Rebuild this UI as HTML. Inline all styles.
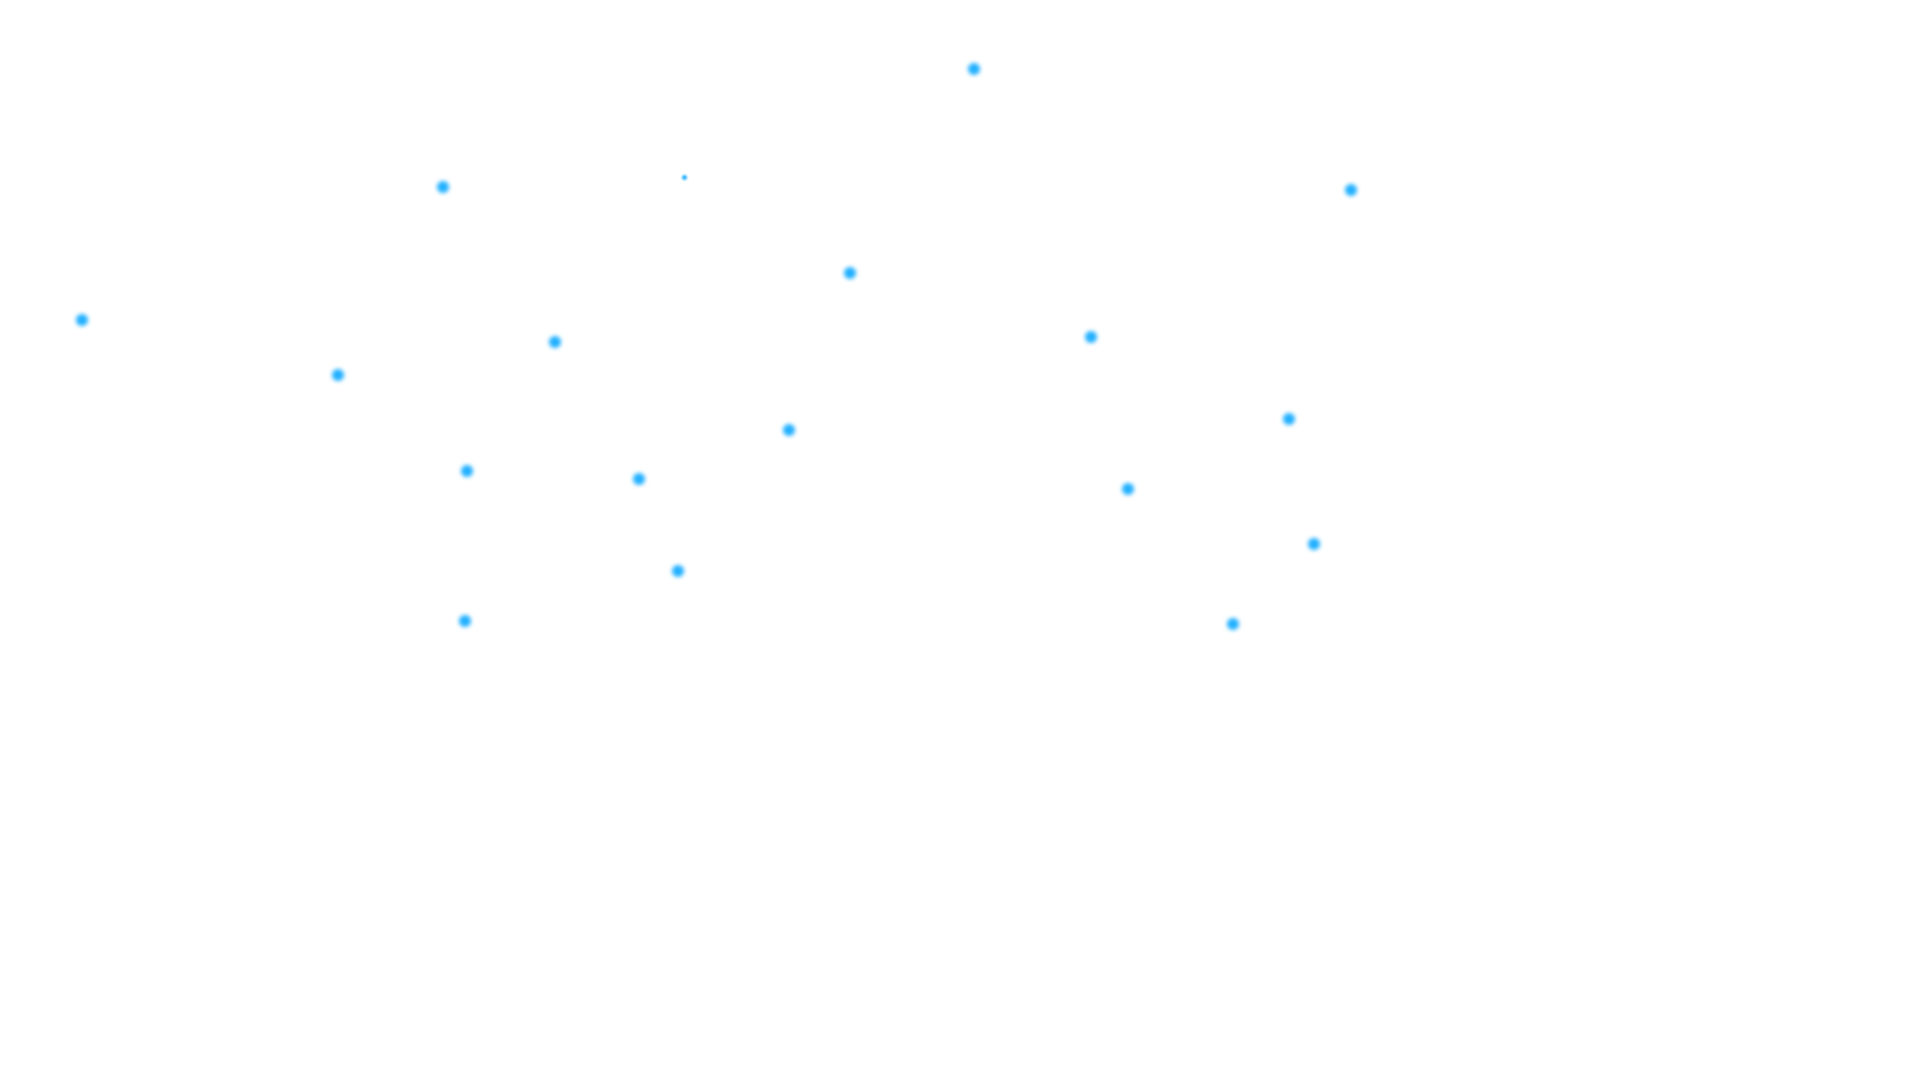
<!DOCTYPE html>
<html><head><meta charset="utf-8"><style>
html,body{margin:0;padding:0;background:#fff;width:1920px;height:1080px;overflow:hidden}
.d{position:absolute;width:12px;height:12px;margin:-6px 0 0 -6px;border-radius:50%;
background:#22b0ff;filter:blur(2px)}
.s{width:5px;height:5px;margin:-2.5px 0 0 -2.5px;filter:blur(1px)}
</style></head><body>
<div class="d" style="left:974px;top:69px"></div>
<div class="d" style="left:443px;top:187px"></div>
<div class="d s" style="left:684px;top:177px"></div>
<div class="d" style="left:1351px;top:190px"></div>
<div class="d" style="left:850px;top:273px"></div>
<div class="d" style="left:82px;top:320px"></div>
<div class="d" style="left:555px;top:342px"></div>
<div class="d" style="left:338px;top:375px"></div>
<div class="d" style="left:1091px;top:337px"></div>
<div class="d" style="left:789px;top:430px"></div>
<div class="d" style="left:1289px;top:419px"></div>
<div class="d" style="left:467px;top:471px"></div>
<div class="d" style="left:639px;top:479px"></div>
<div class="d" style="left:1128px;top:489px"></div>
<div class="d" style="left:1314px;top:544px"></div>
<div class="d" style="left:678px;top:571px"></div>
<div class="d" style="left:465px;top:621px"></div>
<div class="d" style="left:1233px;top:624px"></div>
</body></html>
